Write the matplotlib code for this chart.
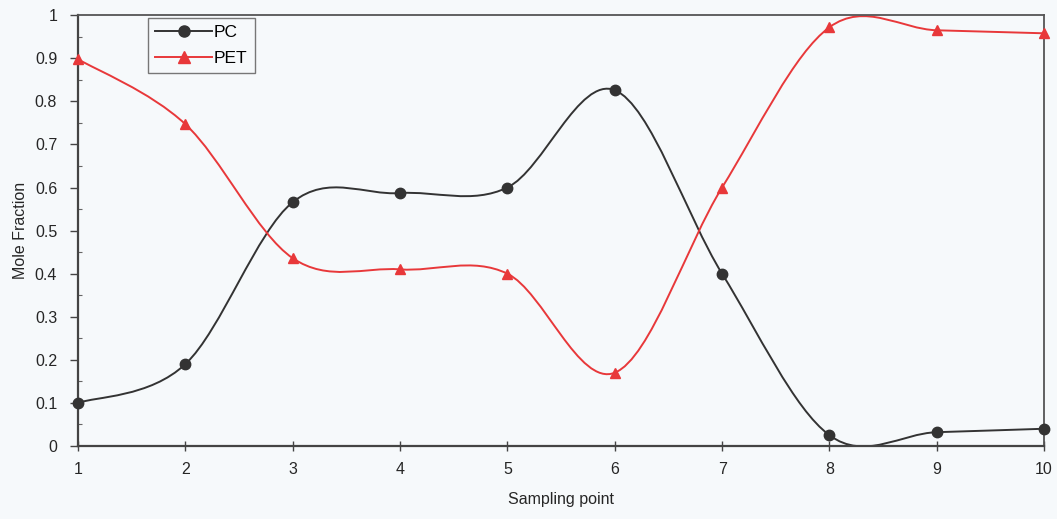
import matplotlib
matplotlib.use('Agg')
import matplotlib.pyplot as plt
from matplotlib.path import Path
from matplotlib.patches import PathPatch
import numpy as np

# Data
sampling = [1, 2, 3, 4, 5, 6, 7, 8, 9, 10]
pc = [0.10, 0.19, 0.566, 0.587, 0.60, 0.826, 0.40, 0.025, 0.032, 0.040]
pet = [0.898, 0.747, 0.436, 0.41, 0.40, 0.17, 0.60, 0.972, 0.965, 0.958]
yTickLabels = ['0', '0.1', '0.2', '0.3', '0.4', '0.5', '0.6', '0.7', '0.8', '0.9', '1']

plt.rcParams['font.family'] = ['Liberation Sans', 'DejaVu Sans']

BG = '#f6f9fb'
TXT = '#262626'


def smoothPath(xs, ys):
  """Excel-style smoothed line: cubic Bezier through the points."""
  p = np.column_stack([xs, ys]).astype(float)
  n = len(p)
  verts = [p[0]]
  codes = [Path.MOVETO]
  for i in range(n - 1):
    p0 = p[i - 1] if i > 0 else p[i]
    p3 = p[i + 2] if i + 2 < n else p[i + 1]
    c1 = p[i] + (p[i + 1] - p0) / 6.0
    c2 = p[i + 1] - (p3 - p[i]) / 6.0
    verts += [c1, c2, p[i + 1]]
    codes += [Path.CURVE4] * 3
  return Path(verts, codes)


fig = plt.figure(figsize=(10.57, 5.19), dpi=100, facecolor=BG)
ax = fig.add_axes([0.0738, 0.1407, 0.914, 0.830], facecolor=BG)

series = [
  (pc, '#333333', 'o', 'PC'),
  (pet, '#e8383a', '^', 'PET'),
]
for ys, color, marker, label in series:
  patch = PathPatch(smoothPath(sampling, ys), facecolor='none', edgecolor=color, linewidth=1.4, zorder=2)
  ax.add_patch(patch)
  ax.plot(sampling, ys, linestyle='none', marker=marker, markersize=7.5, color=color, zorder=3, clip_on=False)
  # proxy line for legend
  ax.plot([], [], color=color, marker=marker, markersize=8, linewidth=1.4, label=label)

ax.set_xlim(1, 10)
ax.set_ylim(0, 1)
ax.set_xticks(sampling)
ax.set_yticks(np.arange(0, 1.01, 0.1))
ax.set_yticklabels(yTickLabels)
ax.set_yticks(np.arange(0.05, 1.0, 0.1), minor=True)
ax.tick_params(axis='x', labelsize=11.5, colors='#444444', labelcolor=TXT, length=7, direction='inout', width=1, pad=8)
ax.tick_params(axis='y', which='major', labelsize=11.5, colors='#444444', labelcolor=TXT, length=6, direction='out', width=1, pad=9)
ax.tick_params(axis='y', which='minor', colors='#666666', length=3, direction='in', width=0.8)

for side in ['left', 'bottom']:
  ax.spines[side].set_color('#444444')
  ax.spines[side].set_linewidth(1.6)
for side in ['top', 'right']:
  ax.spines[side].set_color('#555555')
  ax.spines[side].set_linewidth(1.3)

ax.set_xlabel('Sampling point', fontsize=11.5, color=TXT, labelpad=11)
ax.set_ylabel('Mole Fraction', fontsize=11.5, color=TXT, labelpad=5)

leg = ax.legend(loc='upper left', bbox_to_anchor=(0.0725, 0.993), borderaxespad=0, fontsize=12.5,
                frameon=True, fancybox=False, edgecolor='#777777', facecolor=BG, framealpha=1,
                handlelength=3.3, handletextpad=0.1, borderpad=0.4, labelspacing=0.6)
leg.get_frame().set_linewidth(1.0)

plt.savefig('out.png', dpi=100, facecolor=BG)
